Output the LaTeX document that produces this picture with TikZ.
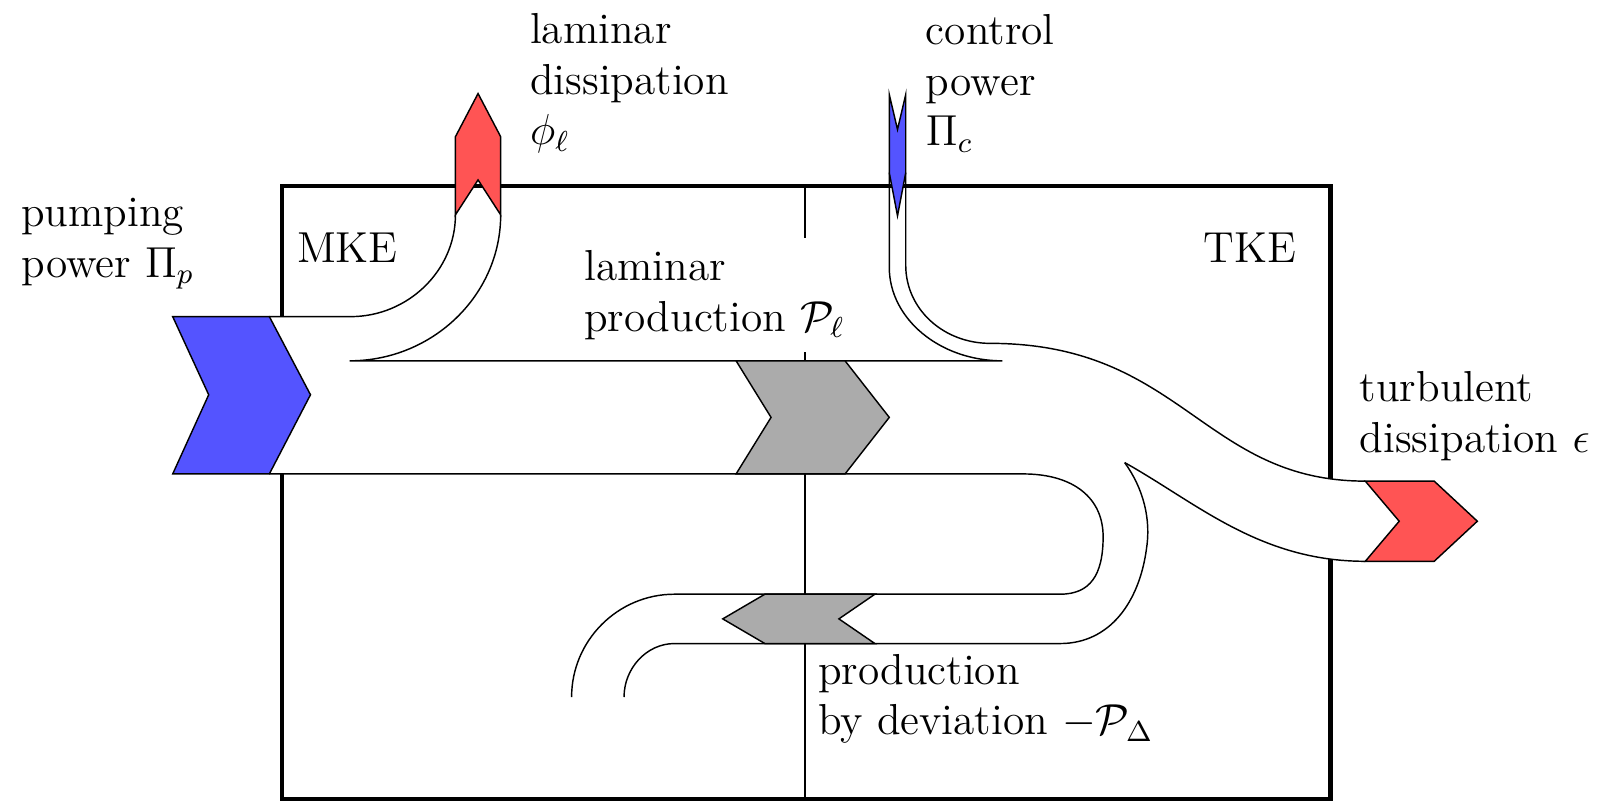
\documentclass[tikz,border=0pt]{standalone}
\usepackage{amsmath}
\tikzset{
    lbl/.style={align=left, anchor=west, inner sep=0pt},
}
\begin{document}
\begin{tikzpicture}[font=\large]
    \useasboundingbox (0,0) rectangle (15.68,7.80);

    % 1. Box with MKE / TKE halves
    \draw[very thick] (2.74,0.03) rectangle (12.94,5.99);
    \draw (7.83,0.03) -- (7.83,5.99);

    % 2. White fill under the bands
    \fill[white] (2.62,3.19) rectangle (3.45,4.72);
    \fill[white] (9.63,4.46) .. controls (11.50,4.46) and (11.70,3.12) .. (13.28,3.12)
        -- (13.28,2.34) .. controls (11.70,2.34) and (11.10,3.68) .. (9.63,3.68) -- cycle;
    \node[fill=white, align=left, anchor=west] (lamprod) at (5.56,4.93) {laminar\\production $\mathcal{P}_\ell$};

    % 3. Outlines of the bands
    \draw (2.62,4.72) -- (3.41,4.72) .. controls (3.97,4.72) and (4.43,5.17) .. (4.43,5.71);
    \draw (4.87,5.71) .. controls (4.87,4.93) and (4.21,4.29) .. (3.40,4.29) -- (9.75,4.29)
        .. controls (9.14,4.29) and (8.65,4.70) .. (8.65,5.20) -- (8.65,6.12);
    \draw (8.81,6.12) -- (8.81,5.22) .. controls (8.81,4.79) and (9.18,4.46) .. (9.63,4.46)
        .. controls (11.50,4.46) and (11.70,3.12) .. (13.28,3.12);
    \draw (10.94,3.30) .. controls (11.64,2.91) and (12.25,2.34) .. (13.28,2.34);
    \draw (2.62,3.19) -- (9.95,3.19) .. controls (10.45,3.19) and (10.73,2.95) .. (10.73,2.58)
        .. controls (10.73,2.20) and (10.60,2.02) .. (10.31,2.02) -- (6.56,2.02)
        .. controls (6.01,2.02) and (5.56,1.57) .. (5.56,1.02);
    \draw (10.94,3.30) .. controls (11.12,3.05) and (11.20,2.75) .. (11.15,2.45)
        .. controls (11.08,1.95) and (10.80,1.54) .. (10.31,1.54) -- (6.56,1.54)
        .. controls (6.29,1.54) and (6.07,1.30) .. (6.07,1.02);

    % 4. Arrow heads
    \filldraw[fill=blue!67] (1.68,4.72) -- (2.62,4.72) -- (3.02,3.96) -- (2.62,3.19) -- (1.68,3.19) -- (2.03,3.96) -- cycle;
    \filldraw[fill=red!67] (4.43,5.71) -- (4.65,6.05) -- (4.87,5.71) -- (4.87,6.47) -- (4.65,6.89) -- (4.43,6.47) -- cycle;
    \filldraw[fill=blue!67] (8.65,6.88) -- (8.73,6.54) -- (8.81,6.88) -- (8.81,6.12) -- (8.73,5.70) -- (8.65,6.12) -- cycle;
    \filldraw[fill=black!33] (7.16,4.29) -- (8.22,4.29) -- (8.65,3.74) -- (8.22,3.19) -- (7.16,3.19) -- (7.50,3.74) -- cycle;
    \filldraw[fill=black!33] (7.03,1.78) -- (7.44,2.02) -- (8.51,2.02) -- (8.16,1.78) -- (8.51,1.54) -- (7.44,1.54) -- cycle;
    \filldraw[fill=red!67] (13.28,3.12) -- (13.95,3.12) -- (14.37,2.73) -- (13.95,2.34) -- (13.28,2.34) -- (13.61,2.73) -- cycle;

    % 5. Labels
    \node (mke) at (3.38,5.39) {MKE};
    \node (tke) at (12.16,5.39) {TKE};
    \node[lbl] (pump) at (0.20,5.43) {pumping\\power $\Pi_p$};
    \node[lbl] (lamdiss) at (5.15,6.99) {laminar\\dissipation\\$\phi_\ell$};
    \node[lbl] (ctrl) at (9.00,6.99) {control\\power\\$\Pi_c$};
    \node[lbl] (turb) at (13.22,3.75) {turbulent\\dissipation $\epsilon$};
    \node[lbl] (proddev) at (7.95,1.00) {production\\by deviation $-\mathcal{P}_\Delta$};
\end{tikzpicture}
\end{document}
